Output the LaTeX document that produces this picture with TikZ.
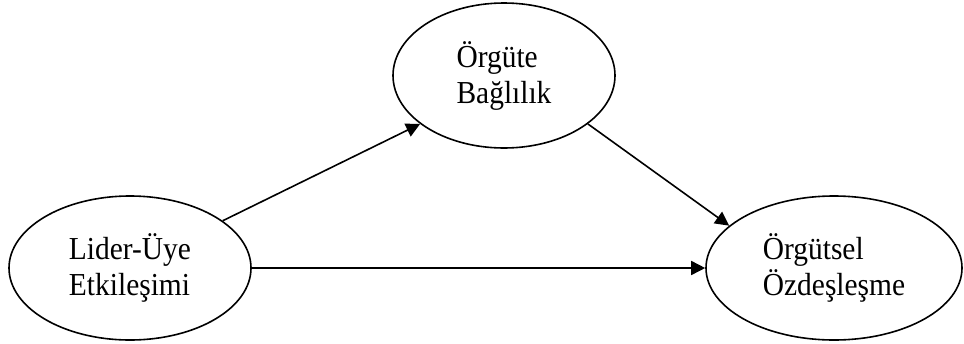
\documentclass[tikz,border=0pt]{standalone}
\usepackage{fontspec}
\setmainfont{Liberation Serif}
\newfontfamily\diagfont[FakeStretch=0.92]{Liberation Serif}
\usetikzlibrary{arrows.meta,shapes.geometric}

\begin{document}
\begin{tikzpicture}[
  x=0.5pt,y=-0.5pt,
  >={Triangle[length=7pt,width=7pt]},
  construct/.style={ellipse,draw,line width=0.8pt,inner sep=0pt,align=left,
    font=\diagfont\fontsize{16}{18}\selectfont},
  effect/.style={->,line width=0.8pt}
]
\useasboundingbox (0,0) rectangle (964,343);

% ---- constructs ----
\node[construct,minimum width=121pt,minimum height=72pt] (lue) at (130,268)
  {Lider-Üye\\Etkileşimi};
\node[construct,minimum width=111pt,minimum height=72.5pt] (ob) at (504,75.5)
  {Örgüte\\Bağlılık};
\node[construct,minimum width=128pt,minimum height=72pt] (oo) at (834,268)
  {Örgütsel\\Özdeşleşme};

% ---- effects ----
\draw[effect] (lue.27) -- (ob.210);
\draw[effect] (ob.-30) -- (oo.158);
\draw[effect] (lue.east) -- (oo.west);

\end{tikzpicture}
\end{document}
